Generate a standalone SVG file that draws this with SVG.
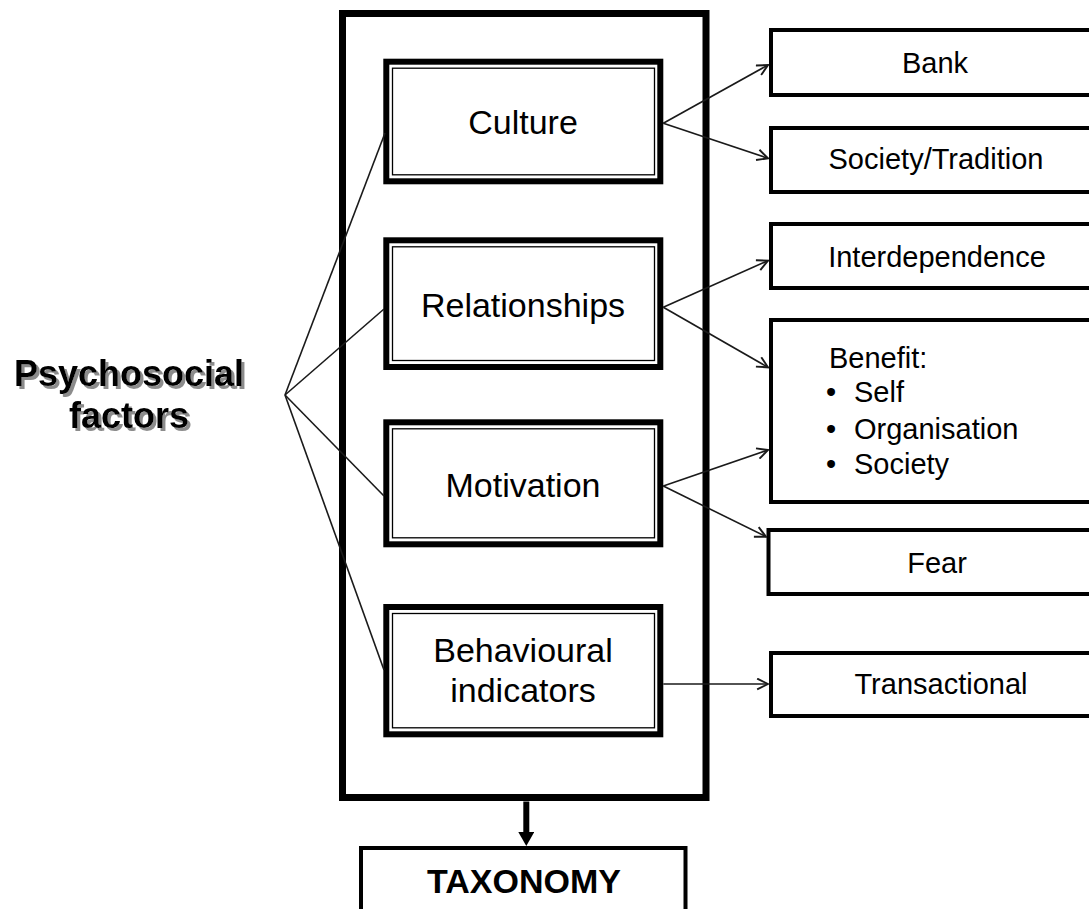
<svg xmlns="http://www.w3.org/2000/svg" width="1089" height="909" viewBox="0 0 1089 909">
  <style>
    .frame { fill: #fff; stroke: #000; stroke-width: 7; }
    .thick { fill: #fff; stroke: #000; stroke-width: 6; }
    .thin { fill: none; stroke: #000; stroke-width: 1.3; }
    .out { fill: #fff; stroke: #000; stroke-width: 4; }
    .link { fill: none; stroke: #1a1a1a; stroke-width: 1.6; }
    .txt { font-family: "Liberation Sans", Arial, sans-serif; fill: #000; }
    .inner { font-size: 34px; text-anchor: middle; }
    .right { font-size: 29px; text-anchor: middle; }
    .list { font-size: 29px; }
    .title { font-size: 36px; font-weight: bold; text-anchor: middle; }
  </style>
  <defs>
    <filter id="drop" x="-10%" y="-20%" width="130%" height="150%">
      <feDropShadow dx="3" dy="3" stdDeviation="0.6" flood-color="#8c8c8c" flood-opacity="1"/>
    </filter>
    <marker id="vee" viewBox="0 0 12 12" refX="11" refY="6" markerWidth="13" markerHeight="13" markerUnits="userSpaceOnUse" orient="auto">
      <path d="M1,1 L11,6 L1,11" fill="none" stroke="#1a1a1a" stroke-width="1.8"/>
    </marker>
    <marker id="solid" viewBox="0 0 16 14" refX="8" refY="2" markerWidth="16" markerHeight="14" markerUnits="userSpaceOnUse" orient="0">
      <path d="M0,0 L16,0 L8,14 Z" fill="#000"/>
    </marker>
  </defs>

  <!-- enclosing frame -->
  <g id="frame">
    <rect class="frame" x="342.5" y="13.5" width="363.5" height="784"/>
  </g>

  <!-- left label -->
  <g id="psychosocial" filter="url(#drop)">
    <text class="txt title" x="129" y="386">Psychosocial</text>
    <text class="txt title" x="129" y="428">factors</text>
  </g>

  <!-- factor boxes -->
  <g id="culture">
    <rect class="thick" x="386.3" y="61.7" width="274" height="119.6"/>
    <rect class="thin" x="392.5" y="68.2" width="262" height="106.6"/>
    <text class="txt inner" x="523" y="134">Culture</text>
  </g>
  <g id="relationships">
    <rect class="thick" x="386.3" y="240.3" width="274" height="126.7"/>
    <rect class="thin" x="392.5" y="246.8" width="262" height="113.7"/>
    <text class="txt inner" x="523" y="316.7">Relationships</text>
  </g>
  <g id="motivation">
    <rect class="thick" x="386.3" y="422.3" width="274" height="122"/>
    <rect class="thin" x="392.5" y="428.8" width="262" height="109"/>
    <text class="txt inner" x="523" y="497.3">Motivation</text>
  </g>
  <g id="behavioural">
    <rect class="thick" x="386.3" y="607" width="274" height="127.3"/>
    <rect class="thin" x="392.5" y="613.5" width="262" height="114.3"/>
    <text class="txt inner" x="523" y="661.7">Behavioural</text>
    <text class="txt inner" x="523" y="701.7">indicators</text>
  </g>

  <!-- outcome boxes -->
  <g id="bank">
    <rect class="out" x="771" y="30" width="330" height="65"/>
    <text class="txt right" x="935" y="72.7">Bank</text>
  </g>
  <g id="society-tradition">
    <rect class="out" x="771" y="128" width="330" height="64"/>
    <text class="txt right" x="936" y="169.3">Society/Tradition</text>
  </g>
  <g id="interdependence">
    <rect class="out" x="771" y="224" width="330" height="64"/>
    <text class="txt right" x="937" y="266.7">Interdependence</text>
  </g>
  <g id="benefit">
    <rect class="out" x="771" y="320" width="330" height="182"/>
    <text class="txt list" x="829" y="367.7">Benefit:</text>
    <text class="txt list" x="826" y="402">•</text>
    <text class="txt list" x="854" y="402">Self</text>
    <text class="txt list" x="826" y="439.3">•</text>
    <text class="txt list" x="854" y="439.3">Organisation</text>
    <text class="txt list" x="826" y="474.3">•</text>
    <text class="txt list" x="854" y="474.3">Society</text>
  </g>
  <g id="fear">
    <rect class="out" x="768.5" y="530" width="330" height="64"/>
    <text class="txt right" x="937" y="573.3">Fear</text>
  </g>
  <g id="transactional">
    <rect class="out" x="771" y="653" width="330" height="63"/>
    <text class="txt right" x="941" y="694">Transactional</text>
  </g>

  <!-- result box -->
  <g id="taxonomy">
    <rect class="out" x="361" y="848" width="324.5" height="80"/>
    <text class="txt" x="524" y="892.7" font-size="34" font-weight="bold" text-anchor="middle">TAXONOMY</text>
  </g>

  <!-- connectors -->
  <g id="connectors">
    <!-- fan from the label -->
    <line class="link" x1="285" y1="395" x2="385" y2="133"/>
    <line class="link" x1="285" y1="395" x2="384" y2="309"/>
    <line class="link" x1="285" y1="395" x2="384" y2="496"/>
    <line class="link" x1="285" y1="395" x2="384" y2="670"/>
    <!-- factor to outcome arrows -->
    <line class="link" x1="663.3" y1="123.3" x2="768" y2="65" marker-end="url(#vee)"/>
    <line class="link" x1="663.3" y1="123.3" x2="768" y2="158.3" marker-end="url(#vee)"/>
    <line class="link" x1="663.3" y1="307.3" x2="768" y2="260.7" marker-end="url(#vee)"/>
    <line class="link" x1="663.3" y1="307.3" x2="768" y2="367.3" marker-end="url(#vee)"/>
    <line class="link" x1="663.3" y1="486" x2="768" y2="450" marker-end="url(#vee)"/>
    <line class="link" x1="663.3" y1="486" x2="766" y2="536.7" marker-end="url(#vee)"/>
    <line class="link" x1="663.3" y1="684" x2="768" y2="684" marker-end="url(#vee)"/>
    <!-- frame to taxonomy -->
    <line x1="526.3" y1="801.5" x2="526.3" y2="834" stroke="#000" stroke-width="6" marker-end="url(#solid)"/>
  </g>
</svg>
